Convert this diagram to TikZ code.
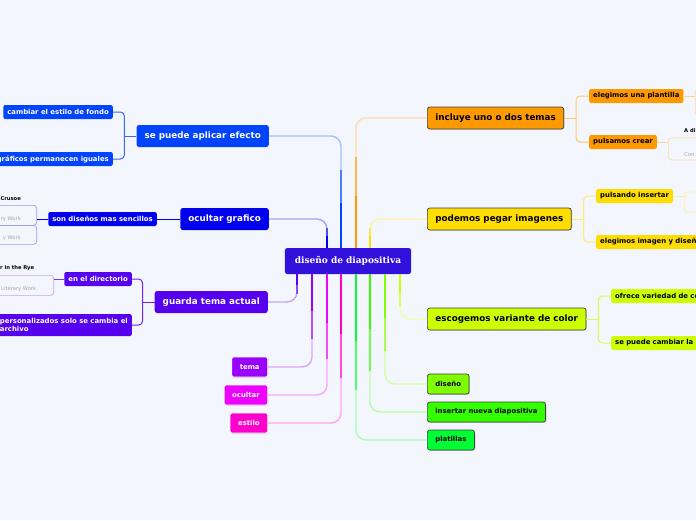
\documentclass[tikz,border=0pt]{standalone}
\usepackage{fontspec}
\setmainfont{DejaVu Sans}
\newfontfamily\centralfont{DejaVu Serif}
\usetikzlibrary{positioning,calc,shadows}
\definecolor{bgc}{HTML}{F3F6FD}
\definecolor{central}{HTML}{3311DD}
\definecolor{cAplicar}{HTML}{0044FF}
\definecolor{cOcultarG}{HTML}{0000EE}
\definecolor{cGuarda}{HTML}{5500EE}
\definecolor{cTema}{HTML}{9900FF}
\definecolor{cOcultar}{HTML}{EE00FF}
\definecolor{cEstilo}{HTML}{FF00CC}
\definecolor{cIncluye}{HTML}{FF9900}
\definecolor{cPegar}{HTML}{FFDD00}
\definecolor{cVariante}{HTML}{CCFF00}
\definecolor{cDiseno}{HTML}{80FF00}
\definecolor{cInsertar}{HTML}{33FF00}
\definecolor{cPlatillas}{HTML}{00FF33}

\begin{document}
\begin{tikzpicture}[
    x=1pt, y=-1pt,
    mainbox/.style={rounded corners=2.5pt, inner xsep=8pt, inner ysep=0pt, minimum height=22pt,
      font=\fontsize{8.8}{10}\selectfont\bfseries},
    rbox/.style={mainbox, draw=black!75, line width=0.7pt, text=black,
      drop shadow={shadow xshift=0.8pt, shadow yshift=-0.8pt, opacity=0.25}},
    lbox/.style={mainbox, text=white},
    smallbox/.style={rounded corners=2pt, inner xsep=8pt, inner ysep=0pt, minimum height=20pt,
      font=\fontsize{6.9}{8}\selectfont\bfseries,
      drop shadow={shadow xshift=0.8pt, shadow yshift=-0.8pt, opacity=0.25}},
    subbox/.style={rounded corners=2pt, inner xsep=4pt, inner ysep=0pt, minimum height=14pt,
      font=\fontsize{6.9}{8}\selectfont\bfseries},
    litbox/.style={rounded corners=3pt, line width=0.7pt},
    littitle/.style={inner sep=0pt, font=\fontsize{5.2}{6}\selectfont\bfseries},
    littext/.style={inner sep=0pt, text=black!35, font=\fontsize{5.2}{6}\selectfont},
    link/.style={line width=1.4pt, rounded corners=10pt},
    sublink/.style={line width=1pt, rounded corners=4pt}
  ]
  \useasboundingbox (0,0) rectangle (696,520);
  \fill[bgc] (0,0) rectangle (696,520);
  \clip (0,0) rectangle (696,520);

  % central topic
  \node[fill=central, text=white, rounded corners=2.5pt, inner xsep=10pt, minimum height=26pt,
    font=\fontsize{9}{10}\centralfont\bfseries] (diseno) at (348,261) {diseño de diapositiva};

  % right branches
  \node[rbox, fill=cIncluye, anchor=west] (incluye) at (427,118) {incluye uno o dos temas};
  \node[rbox, fill=cPegar, anchor=west] (pegar) at (427,219) {podemos pegar imagenes};
  \node[rbox, fill=cVariante, anchor=west] (variante) at (427,319) {escogemos variante de color};
  \node[smallbox, rbox, minimum height=20pt, font=\fontsize{6.9}{8}\selectfont\bfseries,
    fill=cDiseno, anchor=west] (disenoc) at (427,384) {diseño};
  \node[smallbox, rbox, minimum height=20pt, font=\fontsize{6.9}{8}\selectfont\bfseries,
    fill=cInsertar, anchor=west] (insertar) at (427,412) {insertar nueva diapositiva};
  \node[smallbox, rbox, minimum height=20pt, font=\fontsize{6.9}{8}\selectfont\bfseries,
    fill=cPlatillas, anchor=west] (platillas) at (427,440) {platillas};

  % left branches
  \node[lbox, fill=cAplicar, anchor=east] (aplicar) at (269,136) {se puede aplicar efecto};
  \node[lbox, fill=cOcultarG, anchor=east] (ocultarg) at (269,219) {ocultar grafico};
  \node[lbox, fill=cGuarda, anchor=east] (guarda) at (268,302) {guarda tema actual};
  \node[smallbox, draw=white, line width=0.7pt, text=white, fill=cTema, anchor=east] (tema) at (268,367) {tema};
  \node[smallbox, draw=white, line width=0.7pt, text=white, fill=cOcultar, anchor=east] (ocultar) at (268,395) {ocultar};
  \node[smallbox, draw=white, line width=0.7pt, text=white, fill=cEstilo, anchor=east] (estilo) at (268,423) {estilo};

  % connectors from the central topic, fading towards the branch
  \foreach \n/\x/\col/\a/\b in {aplicar/341/cAplicar/north/east, ocultarg/327/cOcultarG/north/east,
      incluye/356/cIncluye/north/west, pegar/370/cPegar/north/west,
      guarda/297/cGuarda/south/east, tema/312/cTema/south/east,
      ocultar/327/cOcultar/south/east, estilo/341/cEstilo/south/east,
      platillas/356/cPlatillas/south/west, insertar/370/cInsertar/south/west,
      disenoc/385/cDiseno/south/west, variante/400/cVariante/south/west}{
    \draw[link, draw=\col!35!white] (diseno.\a -| \x,0) |- (\n.\b);
    \draw[link, draw=\col!70!white] (diseno.\a -| \x,0) -- ($(diseno.\a -| \x,0)!0.7!(\x,0 |- \n.\b)$);
    \draw[link, draw=\col] (diseno.\a -| \x,0) -- ($(diseno.\a -| \x,0)!0.4!(\x,0 |- \n.\b)$);
  }

  % sub topics, right
  \node[subbox, fill=cIncluye, anchor=west] (plantilla) at (589,96) {elegimos una plantilla};
  \node[subbox, fill=cIncluye, anchor=west] (crear) at (589,142) {pulsamos crear};
  \node[subbox, fill=cPegar, anchor=west] (pulsando) at (596,196) {pulsando insertar};
  \node[subbox, fill=cPegar, anchor=west, text width=112pt, align=left] (imagen) at (596,242) {elegimos imagen y diseñ};
  \node[subbox, fill=cVariante, anchor=west, text width=100pt, align=left] (variedad) at (611,296) {ofrece variedad de co};
  \node[subbox, fill=cVariante, anchor=west, text width=100pt, align=left] (cambiarla) at (611,343) {se puede cambiar la};

  \draw[sublink, draw=cIncluye!55!white] (incluye.east) -- ++(12,0) coordinate (jInc);
  \draw[sublink, draw=cIncluye!55!white] (jInc) |- (plantilla.west);
  \draw[sublink, draw=cIncluye!55!white] (jInc) |- (crear.west);
  \draw[sublink, draw=cPegar!55!white] (pegar.east) -- ++(12,0) coordinate (jPeg);
  \draw[sublink, draw=cPegar!55!white] (jPeg) |- (pulsando.west);
  \draw[sublink, draw=cPegar!55!white] (jPeg) |- (imagen.west);
  \draw[sublink, draw=cVariante!70!white] (variante.east) -- ++(12,0) coordinate (jVar);
  \draw[sublink, draw=cVariante!70!white] (jVar) |- (variedad.west);
  \draw[sublink, draw=cVariante!70!white] (jVar) |- (cambiarla.west);

  % cut-off boxes at the right edge
  \node[litbox, draw=cIncluye!35!white, anchor=west, minimum width=40pt, minimum height=27pt] (plantillaSub) at (695,102) {};
  \node[litbox, draw=cIncluye!35!white, anchor=west, minimum width=60pt, minimum height=22pt] (crearSub) at (668,149) {};
  \node[littitle, anchor=west] (crearTitle) at (684,131) {A di};
  \node[littext, anchor=west] (crearText) at (684,155) {Con};
  \node[litbox, draw=cPegar!40!white, anchor=west, minimum width=40pt, minimum height=20pt] (pulsandoSub) at (684,202) {};
  \draw[sublink, draw=cIncluye!40!white] (plantilla.east) -- (plantilla.east -| plantillaSub.west);
  \draw[sublink, draw=cIncluye!40!white] (crear.east) -- (crear.east -| crearSub.west);
  \draw[sublink, draw=cPegar!40!white] (pulsando.east) -- (pulsando.east -| pulsandoSub.west);

  % sub topics, left
  \node[subbox, fill=cAplicar, text=white, anchor=east] (fondo) at (113,112) {cambiar el estilo de fondo};
  \node[subbox, fill=cAplicar, text=white, anchor=east] (graficos) at (113,159) {gráficos permanecen iguales};
  \node[subbox, fill=cOcultarG, text=white, anchor=east] (sencillos) at (157,219) {son diseños mas sencillos};
  \node[subbox, fill=cGuarda, text=white, anchor=east] (directorio) at (132,279) {en el directorio};
  \node[subbox, fill=cGuarda, text=white, anchor=east, minimum height=22pt, align=left,
    font=\fontsize{6.9}{8.5}\selectfont\bfseries] (personal) at (132,325) {personalizados solo se cambia el\\archivo};
  \fill[cAplicar] (graficos.west) ++(0,-7) rectangle ++(-30,14);
  \fill[cGuarda] (personal.west) ++(0,-11) rectangle ++(-30,22);

  \draw[sublink, draw=cAplicar!80!white] (aplicar.west) -- ++(-12,0) coordinate (jApl);
  \draw[sublink, draw=cAplicar!80!white] (jApl) |- (fondo.east);
  \draw[sublink, draw=cAplicar!80!white] (jApl) |- (graficos.east);
  \draw[sublink, draw=cOcultarG] (ocultarg.west) -- (sencillos.east);
  \draw[sublink, draw=cGuarda!85!white] (guarda.west) -- ++(-12,0) coordinate (jGua);
  \draw[sublink, draw=cGuarda!85!white] (jGua) |- (directorio.east);
  \draw[sublink, draw=cGuarda!85!white] (jGua) |- (personal.east);

  % literary work boxes at the left edge
  \node[litbox, draw=cOcultarG!40!white, anchor=north east, minimum width=70pt, minimum height=20pt] (lit1) at (37,205) {};
  \node[litbox, draw=cOcultarG!40!white, anchor=north east, minimum width=70pt, minimum height=19pt] (lit2) at (37,225) {};
  \node[littitle, anchor=east] (lit1Title) at (21,199) {Crusoe};
  \node[littext, anchor=east] (lit1Text) at (21,219) {ry Work};
  \node[littext, anchor=east] (lit2Text) at (21,238) {y Work};
  \draw[sublink, draw=cOcultarG] (sencillos.west) -- (sencillos.west -| lit1.east);

  \node[litbox, draw=cGuarda!35!white, anchor=north east, minimum width=80pt, minimum height=20pt] (lit3) at (54,275) {};
  \node[littitle, anchor=west] (lit3Title) at (0,268) {r in the Rye};
  \node[littext, anchor=west] (lit3Text) at (1,289) {Literary Work};
  \draw[sublink, draw=cGuarda!80!white] (directorio.west) -- (directorio.west -| lit3.east);
\end{tikzpicture}
\end{document}
